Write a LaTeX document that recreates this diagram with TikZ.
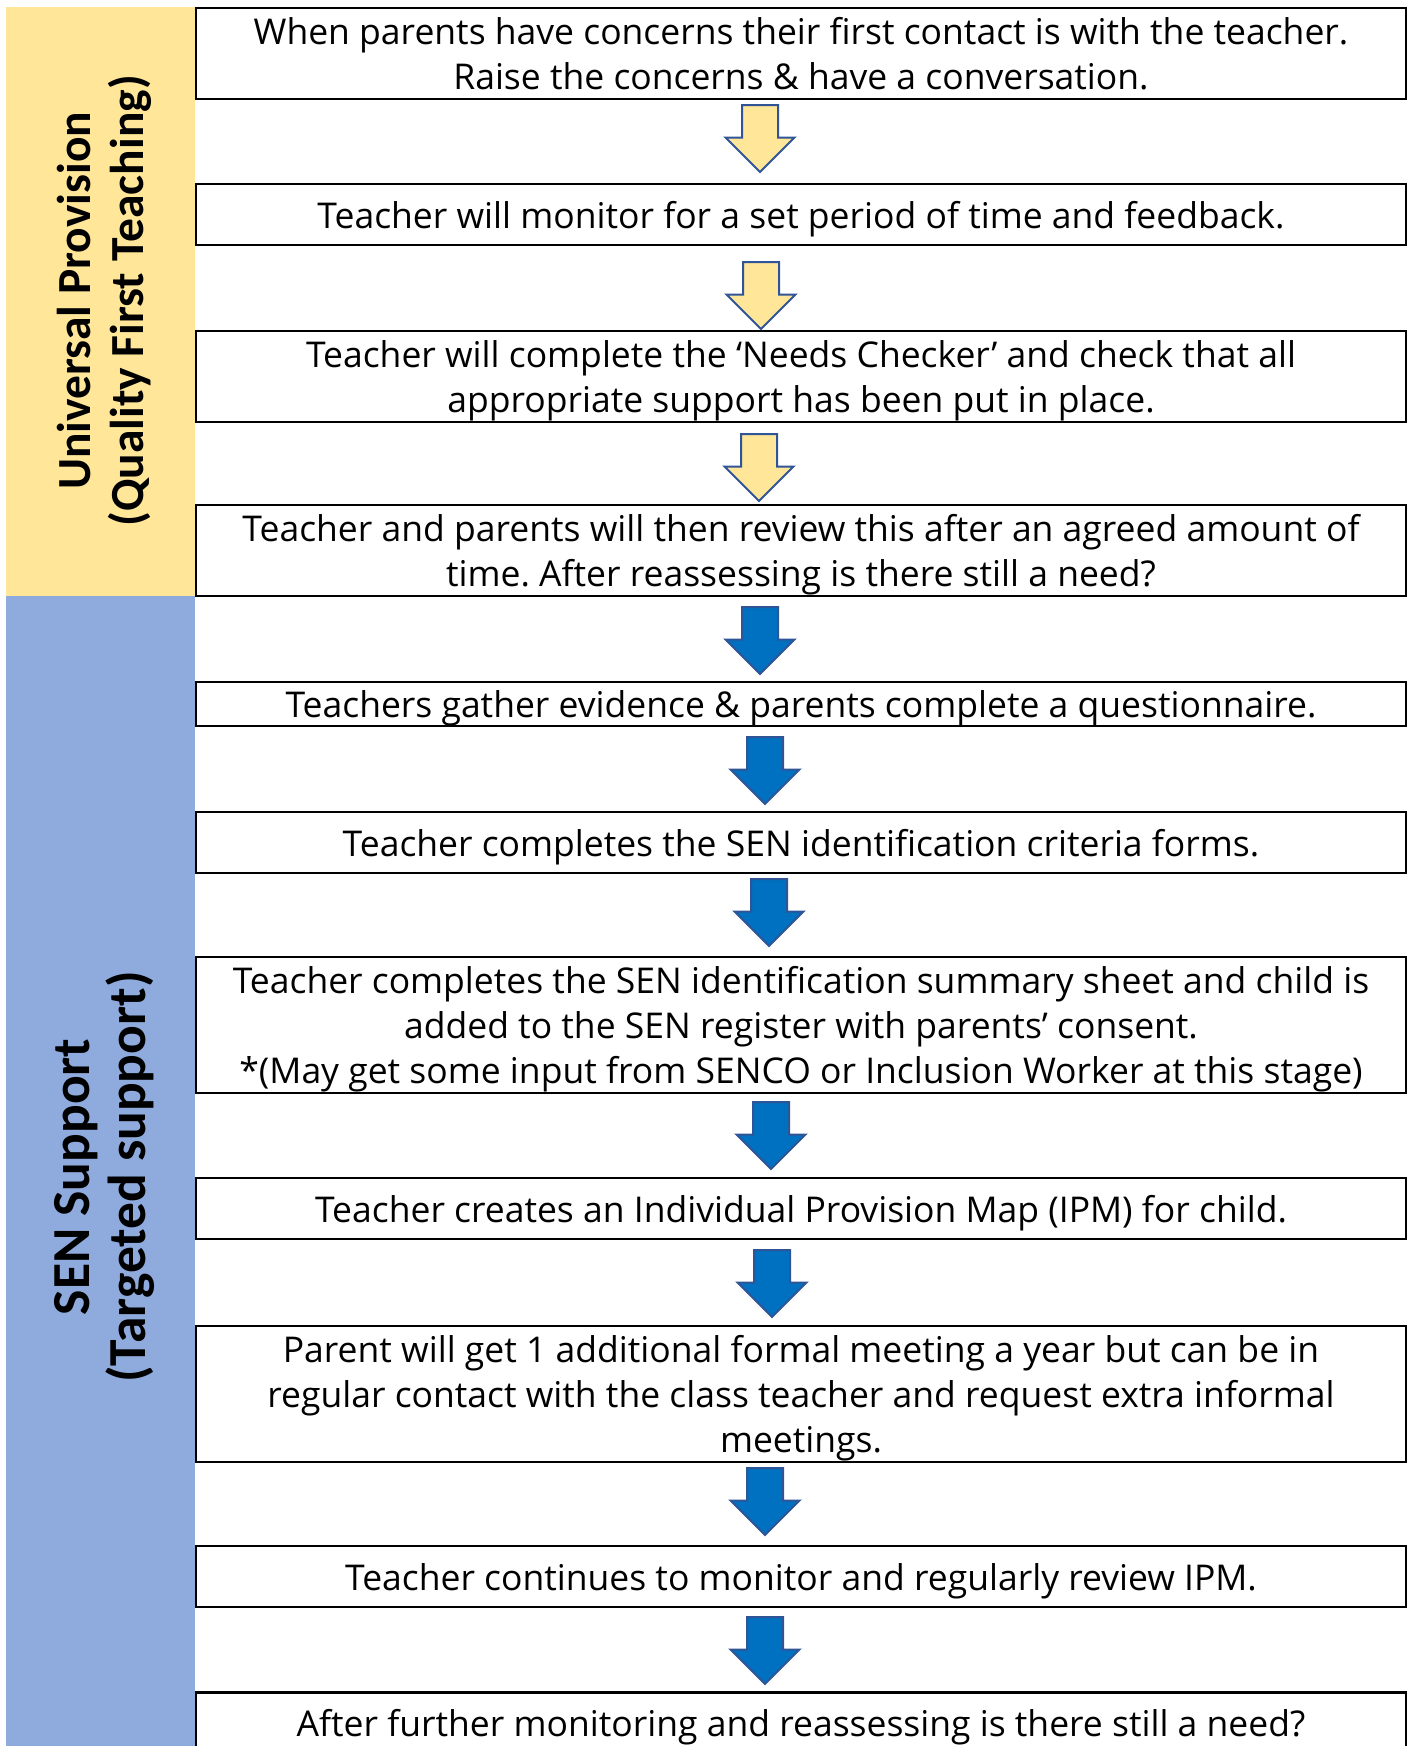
\documentclass[tikz,border=0pt]{standalone}
\usepackage{fontspec}
\setmainfont{Open Sans}
\newfontfamily\bandfont{Carlito}
\usetikzlibrary{shapes.arrows}
\frenchspacing

\definecolor{bandyellow}{HTML}{FFE699}
\definecolor{bandblue}{HTML}{8FAADC}
\definecolor{arrowblue}{HTML}{0070C0}
\definecolor{edgeblue}{HTML}{2F5597}

\tikzset{
  stage/.style={draw, line width=2.5pt, minimum width=1210pt, inner sep=0pt,
    text depth=-1.5pt, align=center, font=\fontsize{35.5}{45}\selectfont},
  downarrow/.style={single arrow, draw=edgeblue, line width=2pt,
    inner xsep=17pt, inner ysep=0pt, minimum height=67pt,
    single arrow head extend=16.5pt, shape border rotate=270, anchor=tail},
  softarrow/.style={downarrow, fill=bandyellow},
  hardarrow/.style={downarrow, fill=arrowblue},
  bandlabel/.style={rotate=90, align=center}
}

\begin{document}
\begin{tikzpicture}[x=1pt,y=-1pt]
\useasboundingbox (0,0) rectangle (1411,1746);

\fill[bandyellow] (6,7) rectangle (195,596);
\fill[bandblue] (6,596) rectangle (195,1746);

\node[bandlabel, font=\bandfont\bfseries\fontsize{47.5}{53}\selectfont] (universal) at (104,301) {Universal Provision\\(Quality First Teaching)};

\node[bandlabel, font=\bandfont\bfseries\fontsize{53.5}{56}\selectfont] (sen) at (104,1177) {SEN Support\\(Targeted support)};

\node[stage, minimum height=91pt] (contact) at (801,53.5) {When parents have concerns their first contact is with the teacher.\\Raise the concerns \& have a conversation.};

\node[stage, minimum height=61pt] (monitor) at (801,214.5) {Teacher will monitor for a set period of time and feedback.};

\node[stage, minimum height=91pt] (checker) at (801,376.5) {Teacher will complete the ‘Needs Checker’ and check that all\\appropriate support has been put in place.};

\node[stage, minimum height=91pt] (review) at (801,550.5) {Teacher and parents will then review this after an agreed amount of\\time. After reassessing is there still a need?};

\node[stage, minimum height=44pt] (evidence) at (801,704) {Teachers gather evidence \& parents complete a questionnaire.};

\node[stage, minimum height=61pt] (criteria) at (801,842.5) {Teacher completes the SEN identification criteria forms.};

\node[stage, minimum height=136pt] (register) at (801,1025) {Teacher completes the SEN identification summary sheet and child is\\added to the SEN register with parents’ consent.\\*(May get some input from SENCO or Inclusion Worker at this stage)};

\node[stage, minimum height=61pt] (ipm) at (801,1208.5) {Teacher creates an Individual Provision Map (IPM) for child.};

\node[stage, minimum height=136pt] (meeting) at (801,1394) {Parent will get 1 additional formal meeting a year but can be in\\regular contact with the class teacher and request extra informal\\meetings.};

\node[stage, minimum height=61pt] (regular) at (801,1576.5) {Teacher continues to monitor and regularly review IPM.};

\node[stage, minimum height=61pt] (need) at (801,1723) {After further monitoring and reassessing is there still a need?};

\node[softarrow] (d1) at (760,104) {};
\node[softarrow] (d2) at (761,261) {};
\node[softarrow] (d3) at (759,433) {};

\node[hardarrow] (d4) at (760,606) {};
\node[hardarrow] (d5) at (765,736) {};
\node[hardarrow] (d6) at (769,878) {};
\node[hardarrow] (d7) at (771,1101) {};
\node[hardarrow] (d8) at (772,1249) {};
\node[hardarrow] (d9) at (765,1467) {};
\node[hardarrow] (d10) at (765,1616) {};

\end{tikzpicture}
\end{document}
